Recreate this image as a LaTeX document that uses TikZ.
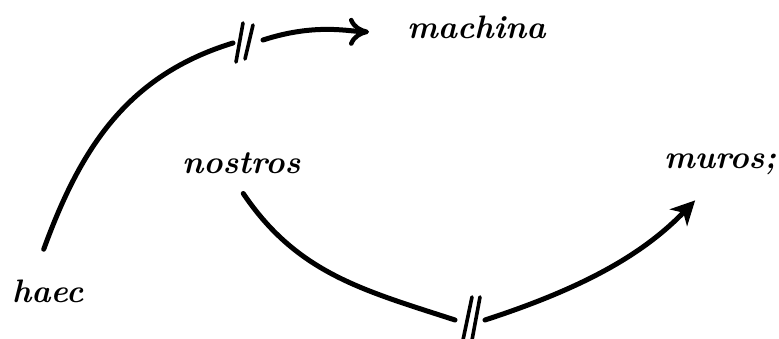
\documentclass[tikz,border=0pt]{standalone}
\usepackage{fontspec}
\usetikzlibrary{arrows.meta}
\begin{document}
\begin{tikzpicture}[x=1pt,y=1pt,
  word/.style={inner sep=0pt,anchor=base west,font=\fontsize{32.5}{38}\selectfont\bfseries\itshape},
  arc/.style={line width=5pt,line cap=round},
  brk/.style={line width=3.6pt,line cap=round}]
\useasboundingbox (0,0) rectangle (779,338);
\node[word] (machina) at (407,299) {machina};
\node[word] (nostros) at (182,165) {nostros};
\node[word] (muros) at (664,170) {muros;};
\node[word] (haec) at (12,36) {haec};
% break points
\coordinate (b1s) at (233,295);
\coordinate (b1e) at (263,298);
\coordinate (b2s) at (455,18);
\coordinate (b2e) at (485,18);
% break marks
\coordinate (t1a) at (243,315); \coordinate (t1b) at (236,276);
\coordinate (t2a) at (253,313); \coordinate (t2b) at (245,279);
\coordinate (u1a) at (472,41); \coordinate (u1b) at (463,-2);
\coordinate (u2a) at (480,41); \coordinate (u2b) at (472,-2);
% arc 1: haec -> machina
\draw[arc] ([xshift=-4pt,yshift=30pt]haec.north) to[out=70,in=197] (b1s);
\draw[brk] (t1a) -- (t1b);
\draw[brk] (t2a) -- (t2b);
\draw[arc,-{Computer Modern Rightarrow[length=20pt,width=28pt,line width=4.5pt]},shorten >=38pt]
  (b1e) to[out=18,in=180] ([yshift=-4pt]machina.west);
% arc 2: nostros -> muros
\draw[arc] ([xshift=2pt,yshift=-20pt]nostros.south) to[out=-56,in=162] (b2s);
\draw[brk] (u1a) -- (u1b);
\draw[brk] (u2a) -- (u2b);
\draw[arc,-{Stealth[length=24pt,width=24pt,inset=7pt]},shorten >=36pt]
  (b2e) to[out=18,in=226] (muros.south);
\end{tikzpicture}
\end{document}
